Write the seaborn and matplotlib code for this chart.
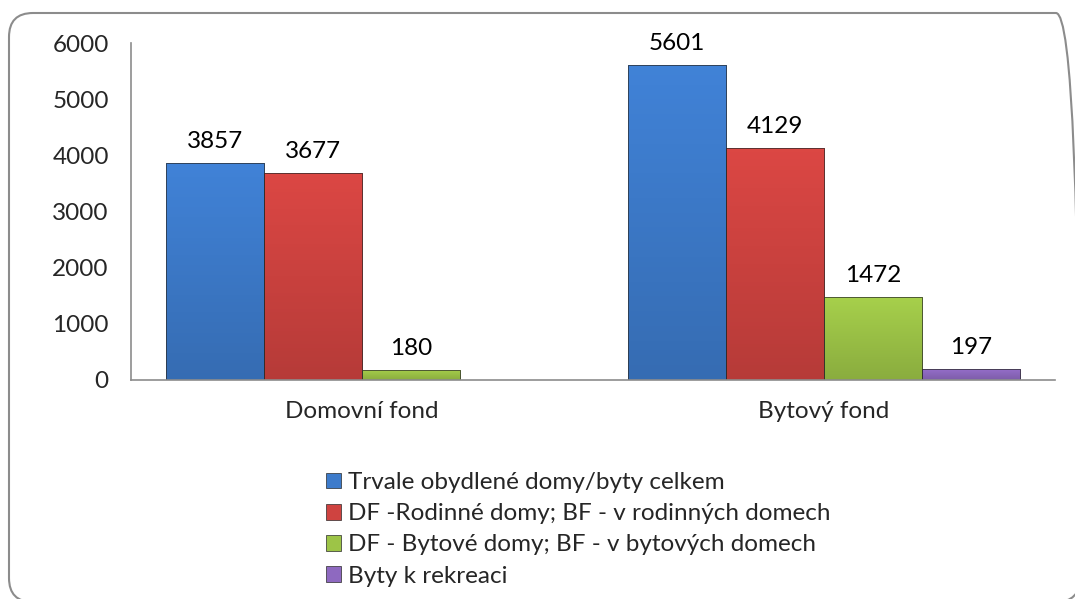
import numpy as np
import pandas as pd
import matplotlib
matplotlib.use("Agg")
import matplotlib.pyplot as plt
import matplotlib.patches as mpatches
from matplotlib.colors import to_rgb
from matplotlib.transforms import IdentityTransform
import seaborn as sns

categories = ["Domovní fond", "Bytový fond"]
series = [
    "Trvale obydlené domy/byty celkem",
    "DF -Rodinné domy; BF - v rodinných domech",
    "DF - Bytové domy; BF - v bytových domech",
    "Byty k rekreaci",
]
total = [3857, 5601]
family_houses = [3677, 4129]
apartment_houses = [180, 1472]
recreation = [np.nan, 197]
colors = ["#3D7BCB", "#CF4340", "#9DC447", "#8E69C0"]

values = [total, family_houses, apartment_houses, recreation]
df = pd.DataFrame(
    [(c, s, v[i]) for s, v in zip(series, values) for i, c in enumerate(categories)],
    columns=["category", "series", "value"],
)

FS = 17.5
sns.set_theme(style="white")
plt.rcParams["font.family"] = ["Lato", "DejaVu Sans"]

fig = plt.figure(figsize=(10.75, 5.99), dpi=100)
ax = fig.add_axes([131 / 1075, 1 - 380 / 599, (1055 - 131) / 1075, (380 - 43) / 599])

sns.barplot(
    data=df, x="category", y="value", hue="series", hue_order=series, order=categories,
    palette=colors, saturation=1, width=0.85, gap=0, edgecolor="#2a2a2a", linewidth=0.5,
    legend=False, ax=ax,
)

# soft vertical shading on each bar, roughly like the bevelled office bars
for container, c in zip(ax.containers, colors):
    base = np.array(to_rgb(c))
    grad = np.linspace(0, 1, 64)[:, None]
    img = np.clip(base * (1.06 - 0.18 * grad)[..., None], 0, 1)
    for bar in container.patches:
        h = bar.get_height()
        if not np.isfinite(h) or h <= 0:
            continue
        x0, w = bar.get_x(), bar.get_width()
        im = ax.imshow(img.repeat(2, axis=1), extent=[x0, x0 + w, 0, h], origin="upper",
                       aspect="auto", zorder=bar.get_zorder() + 0.1)
        im.set_clip_path(bar)
        ax.add_patch(mpatches.Rectangle((x0, 0), w, h, fill=False, edgecolor="#2a2a2a",
                                        linewidth=0.5, zorder=bar.get_zorder() + 0.2))

ax.set_xlim(-0.5, 1.5)
ax.set_ylim(0, 6000)
ax.set_yticks(range(0, 6001, 1000))

for container in ax.containers:
    labels = ["" if np.isnan(v) else f"{v:.0f}" for v in container.datavalues]
    ax.bar_label(container, labels=labels, padding=8, fontsize=FS, color="black")

ax.set_xlabel("")
ax.set_ylabel("")
ax.tick_params(axis="y", length=0, pad=16, labelsize=FS)
ax.tick_params(axis="x", length=0, pad=15, labelsize=FS)
for s in ["top", "right"]:
    ax.spines[s].set_visible(False)
for s in ["left", "bottom"]:
    ax.spines[s].set_color("#8c8c8c")
    ax.spines[s].set_linewidth(1.2)

handles = [mpatches.Patch(facecolor=c, edgecolor="#2a2a2a", linewidth=0.5, label=s)
           for c, s in zip(colors, series)]
fig.legend(handles=handles, loc="upper left", bbox_to_anchor=(326 / 1075, 1 - 472 / 599),
           frameon=False, fontsize=FS, handlelength=0.62, handleheight=0.62,
           handletextpad=0.3, labelspacing=0.42, borderaxespad=0, borderpad=0)

border = mpatches.FancyBboxPatch((9, -3), 1071, 589, boxstyle="round,pad=0,rounding_size=24",
                                 transform=IdentityTransform(), facecolor="none",
                                 edgecolor="#8c8c8c", linewidth=1.5)
fig.patches.append(border)

fig.savefig("out.png", dpi=100)
